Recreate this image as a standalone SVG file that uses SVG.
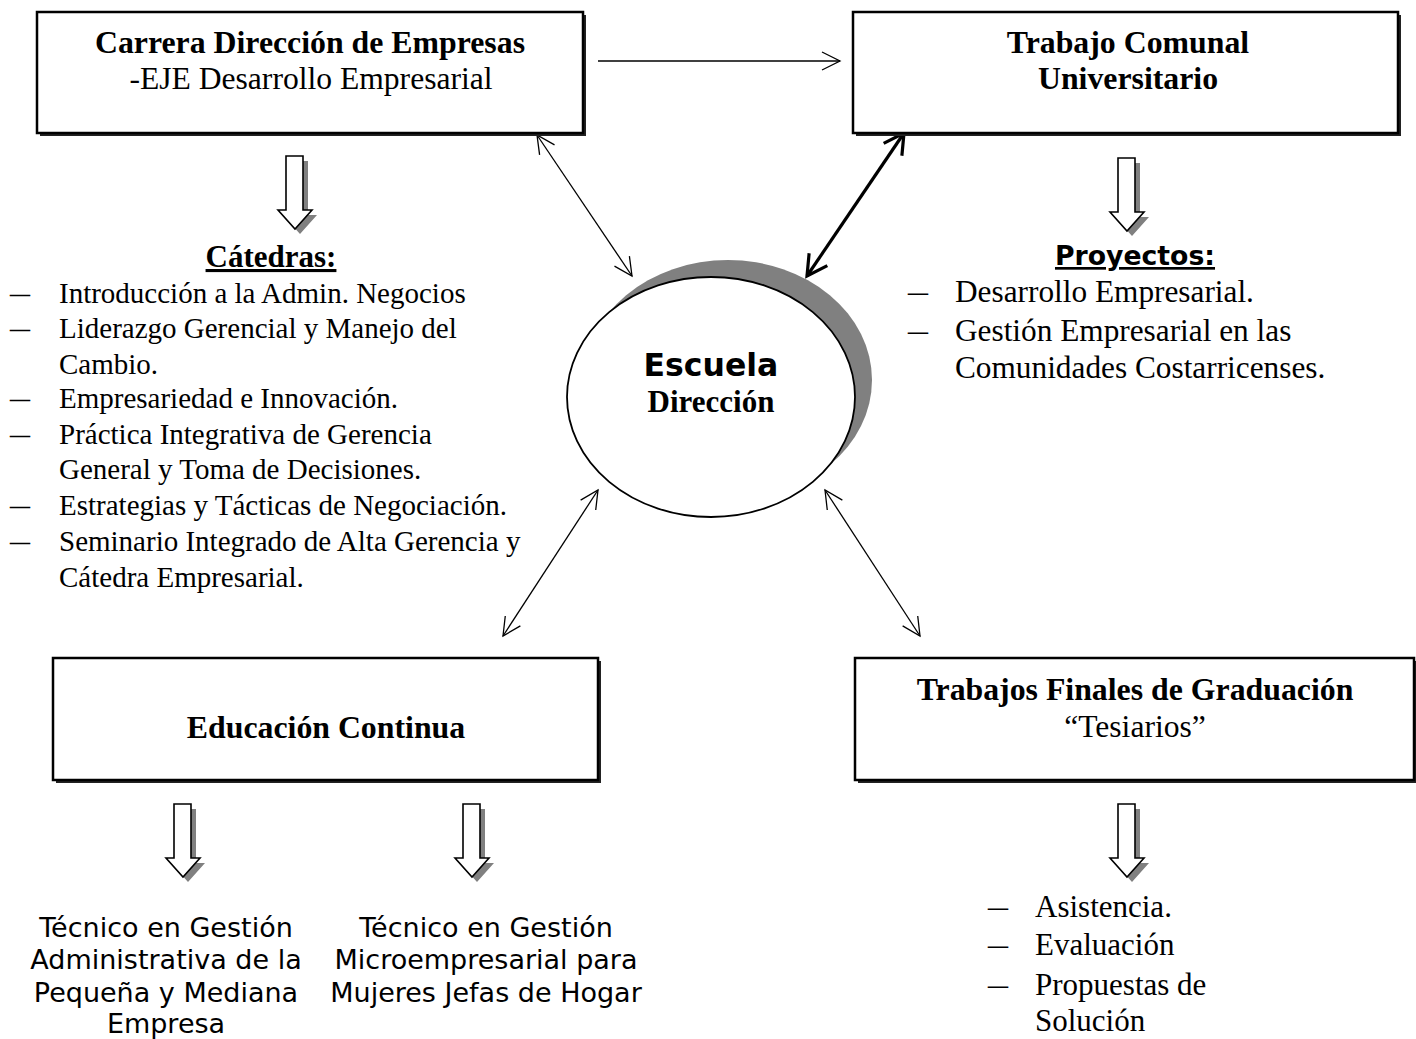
<svg xmlns="http://www.w3.org/2000/svg" width="1416" height="1039" viewBox="0 0 1416 1039">
<style>
.serif{font-family:"Liberation Serif","Times New Roman",serif;fill:#000}
.sans{font-family:"DejaVu Sans",Verdana,sans-serif;fill:#000}
.b{font-weight:bold}
.box{fill:#fff;stroke:#000;stroke-width:2.5}
.bshadow{fill:#222}
.conn{fill:none;stroke:#000;stroke-width:1.3}
.thick{stroke-width:3.2}
.harrow{fill:#fff;stroke:#000;stroke-width:1.6;stroke-linejoin:miter}
.hshadow{fill:#808080}
.dash{stroke:#000;stroke-width:1.8}
</style>
<defs>
<marker id="ah" markerUnits="userSpaceOnUse" markerWidth="40" markerHeight="40" refX="20" refY="20" orient="auto-start-reverse" viewBox="0 0 40 40" overflow="visible">
<path d="M2,11 L20,20 L2,29" fill="none" stroke="#000" stroke-width="1.3"/>
</marker>
<marker id="ahT" markerUnits="userSpaceOnUse" markerWidth="40" markerHeight="40" refX="20" refY="20" orient="auto-start-reverse" viewBox="0 0 40 40" overflow="visible">
<path d="M0,9 L20,20 L0,31" fill="none" stroke="#000" stroke-width="3.2"/>
</marker>
<polygon id="hollow" points="0,0 17,0 17,54 26,54 9,73 -8,54 0,54"/>
</defs>

<g id="connectors">
<line class="conn" x1="598" y1="61" x2="840" y2="61" marker-end="url(#ah)"/>
<line class="conn" x1="537" y1="135" x2="632" y2="276" marker-start="url(#ah)" marker-end="url(#ah)"/>
<line class="conn thick" x1="904" y1="133" x2="807" y2="276" marker-start="url(#ahT)" marker-end="url(#ahT)"/>
<line class="conn" x1="503" y1="636" x2="598" y2="490" marker-start="url(#ah)" marker-end="url(#ah)"/>
<line class="conn" x1="825" y1="490" x2="920" y2="636" marker-start="url(#ah)" marker-end="url(#ah)"/>
</g>

<g id="node-carrera">
<rect class="bshadow" x="40" y="15" width="546" height="121"/>
<rect class="box" x="37" y="12" width="546" height="121"/>
<text class="serif b" x="310" y="53" font-size="31.8" text-anchor="middle">Carrera Dirección de Empresas</text>
<text class="serif" x="311" y="89" font-size="31.6" text-anchor="middle">-EJE Desarrollo Empresarial</text>
</g>

<g id="node-tcu">
<rect class="bshadow" x="856" y="15" width="545" height="121"/>
<rect class="box" x="853" y="12" width="545" height="121"/>
<text class="serif b" x="1128" y="53" font-size="31.8" text-anchor="middle">Trabajo Comunal</text>
<text class="serif b" x="1128" y="89" font-size="31.8" text-anchor="middle">Universitario</text>
</g>

<g id="node-educacion">
<rect class="bshadow" x="56" y="661" width="545" height="122"/>
<rect class="box" x="53" y="658" width="545" height="122"/>
<text class="serif b" x="326" y="738" font-size="31.8" text-anchor="middle">Educación Continua</text>
</g>

<g id="node-tfg">
<rect class="bshadow" x="858" y="661" width="560" height="122"/>
<rect class="box" x="855" y="658" width="559" height="122"/>
<text class="serif b" x="1135" y="700" font-size="31.8" text-anchor="middle">Trabajos Finales de Graduación</text>
<text class="serif" x="1135" y="737" font-size="31.6" text-anchor="middle">“Tesiarios”</text>
</g>

<g id="node-escuela">
<ellipse cx="728" cy="380" rx="144" ry="120" fill="#808080"/>
<ellipse cx="711" cy="397" rx="144" ry="120" fill="#fff" stroke="#000" stroke-width="1.8"/>
<text class="sans b" x="711" y="376" font-size="31.5" text-anchor="middle">Escuela</text>
<text class="serif b" x="711" y="412" font-size="31" text-anchor="middle">Dirección</text>
</g>

<g id="node-catedras">
<use href="#hollow" class="hshadow" x="291" y="161"/>
<use href="#hollow" class="harrow" x="286" y="156"/>
<text class="serif b" x="271" y="267" font-size="31" text-anchor="middle" text-decoration="underline">Cátedras:</text>
<g class="serif" font-size="29">
<text x="10" y="303" textLength="20" lengthAdjust="spacingAndGlyphs">–</text><text x="59" y="303">Introducción a la Admin. Negocios</text>
<text x="10" y="338" textLength="20" lengthAdjust="spacingAndGlyphs">–</text><text x="59" y="338">Liderazgo Gerencial y Manejo del</text>
<text x="59" y="374">Cambio.</text>
<text x="10" y="408" textLength="20" lengthAdjust="spacingAndGlyphs">–</text><text x="59" y="408">Empresariedad e Innovación.</text>
<text x="10" y="444" textLength="20" lengthAdjust="spacingAndGlyphs">–</text><text x="59" y="444">Práctica Integrativa de Gerencia</text>
<text x="59" y="479">General y Toma de Decisiones.</text>
<text x="10" y="515" textLength="20" lengthAdjust="spacingAndGlyphs">–</text><text x="59" y="515">Estrategias y Tácticas de Negociación.</text>
<text x="10" y="551" textLength="20" lengthAdjust="spacingAndGlyphs">–</text><text x="59" y="551">Seminario Integrado de Alta Gerencia y</text>
<text x="59" y="587">Cátedra Empresarial.</text>
</g>
</g>

<g id="node-proyectos">
<use href="#hollow" class="hshadow" x="1123" y="163"/>
<use href="#hollow" class="harrow" x="1118" y="158"/>
<text class="sans b" x="1135" y="265" font-size="26.7" text-anchor="middle" text-decoration="underline">Proyectos:</text>
<g class="serif" font-size="31.3">
<text x="908" y="302" textLength="20" lengthAdjust="spacingAndGlyphs">–</text><text x="955" y="302">Desarrollo Empresarial.</text>
<text x="908" y="341" textLength="20" lengthAdjust="spacingAndGlyphs">–</text><text x="955" y="341">Gestión Empresarial en las</text>
<text x="955" y="378">Comunidades Costarricenses.</text>
</g>
</g>

<g id="node-tecnico1">
<use href="#hollow" class="hshadow" x="179" y="809"/>
<use href="#hollow" class="harrow" x="174" y="804"/>
<g class="sans" font-size="27" text-anchor="middle">
<text x="166" y="937">Técnico en Gestión</text>
<text x="166" y="969">Administrativa de la</text>
<text x="166" y="1002">Pequeña y Mediana</text>
<text x="166" y="1033">Empresa</text>
</g>
</g>

<g id="node-tecnico2">
<use href="#hollow" class="hshadow" x="468" y="809"/>
<use href="#hollow" class="harrow" x="463" y="804"/>
<g class="sans" font-size="27" text-anchor="middle">
<text x="486" y="937">Técnico en Gestión</text>
<text x="486" y="969">Microempresarial para</text>
<text x="486" y="1002">Mujeres Jefas de Hogar</text>
</g>
</g>

<g id="node-tfg-list">
<use href="#hollow" class="hshadow" x="1123" y="809"/>
<use href="#hollow" class="harrow" x="1118" y="804"/>
<g class="serif" font-size="31">
<text x="988" y="917" textLength="20" lengthAdjust="spacingAndGlyphs">–</text><text x="1035" y="917">Asistencia.</text>
<text x="988" y="955" textLength="20" lengthAdjust="spacingAndGlyphs">–</text><text x="1035" y="955">Evaluación</text>
<text x="988" y="995" textLength="20" lengthAdjust="spacingAndGlyphs">–</text><text x="1035" y="995">Propuestas de</text>
<text x="1035" y="1031">Solución</text>
</g>
</g>
</svg>
